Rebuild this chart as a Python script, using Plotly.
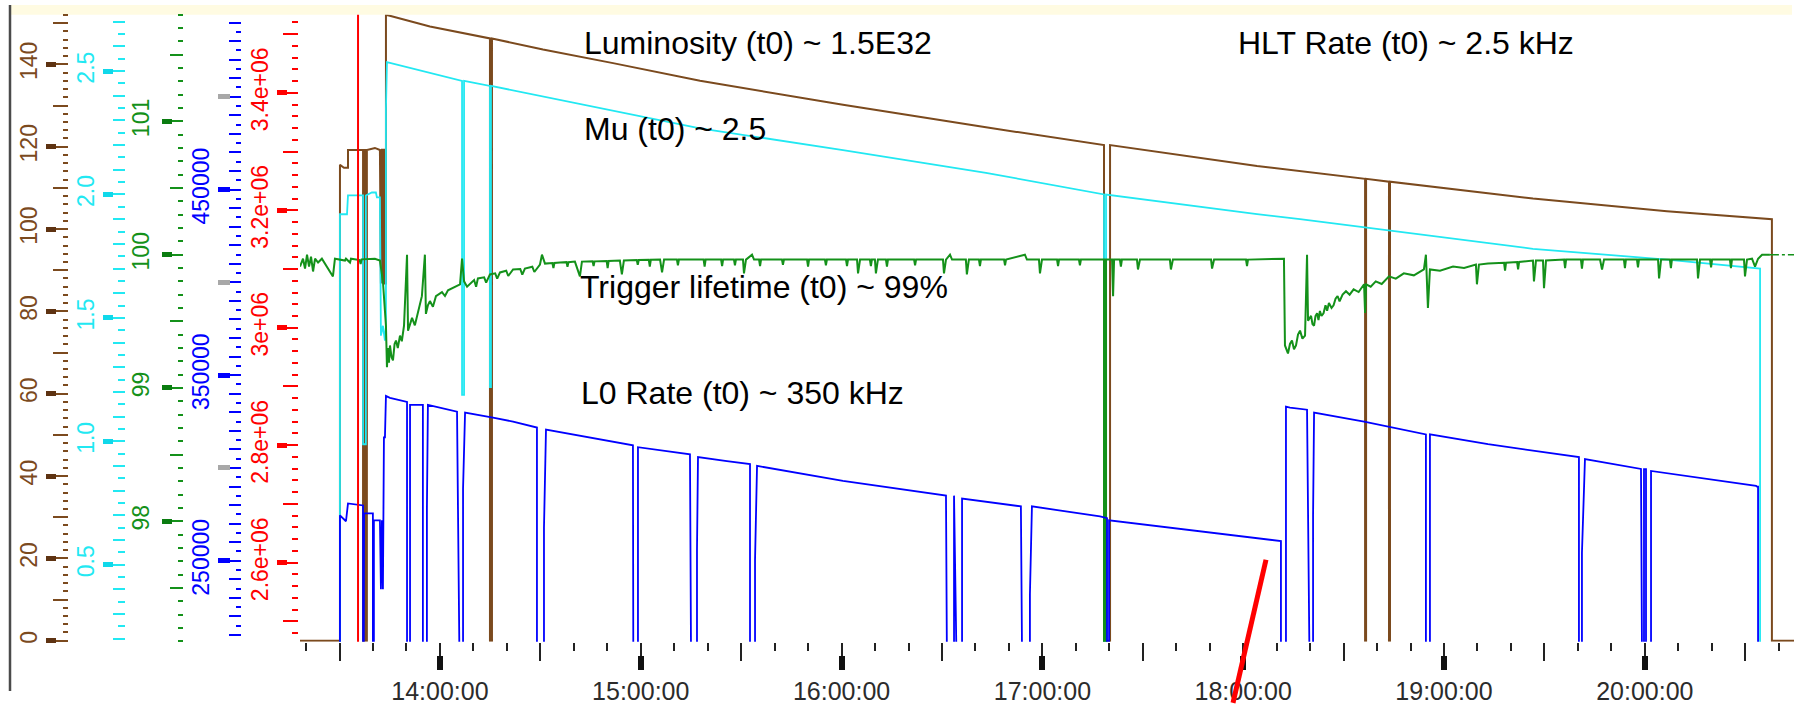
import plotly.graph_objects as go

W, H = 1796, 705

# ---------------- data (time = decimal hour of the day) ----------------
hour_ticks = [14, 15, 16, 17, 18, 19, 20]
hour_labels = ["14:00:00", "15:00:00", "16:00:00", "17:00:00",
               "18:00:00", "19:00:00", "20:00:00"]

# Luminosity (brown axis)
lumi = [(13.303, 0), (13.502, 0), (13.502, 115.6), (13.522, 114.9), (13.542, 114.9),
        (13.542, 119.2), (13.617, 119.2), (13.617, 0), (13.622, 0), (13.622, 119.2),
        (13.631, 119.2), (13.631, 0), (13.636, 0), (13.636, 119.2), (13.676, 119.7),
        (13.701, 119.2), (13.706, 86.8), (13.711, 119.5), (13.716, 86.8), (13.721, 119.5),
        (13.726, 86.8), (13.731, 86.8), (13.731, 152.0), (13.736, 152.0), (13.950, 149.2),
        (14.249, 146.3), (14.249, 0), (14.259, 0), (14.259, 146.3), (14.513, 143.6),
        (14.862, 140.3), (15.295, 136.0), (16.007, 130.2), (16.719, 124.7), (17.307, 120.4),
        (17.307, 0), (17.337, 0), (17.337, 120.4), (18.069, 115.3), (18.607, 112.2),
        (18.607, 0), (18.612, 0), (18.612, 112.2), (18.726, 111.5), (18.726, 0),
        (18.731, 0), (18.731, 111.5), (19.443, 107.4), (20.110, 104.3), (20.633, 102.4),
        (20.633, 0), (20.743, 0)]

# Mu (cyan axis)
mu = [(13.303, 0), (13.502, 0), (13.502, 1.92), (13.537, 1.92), (13.542, 1.996),
      (13.617, 1.996), (13.617, 0.988), (13.631, 0.988), (13.631, 1.996), (13.661, 2.008),
      (13.681, 2.008), (13.686, 1.988), (13.701, 1.988), (13.706, 1.428), (13.716, 1.468),
      (13.726, 1.408), (13.731, 1.468), (13.731, 2.348), (13.736, 2.536), (14.110, 2.46),
      (14.110, 1.188), (14.120, 1.188), (14.120, 2.46), (14.249, 2.44), (14.249, 1.22),
      (14.254, 1.22), (14.254, 2.44), (15.295, 2.268), (16.007, 2.18), (16.719, 2.088),
      (17.307, 2.0), (17.307, 0), (17.317, 0), (17.317, 2.0), (18.069, 1.92),
      (18.283, 1.90), (19.443, 1.78), (20.110, 1.736), (20.574, 1.70), (20.574, 0),
      (20.743, 0)]

# Trigger lifetime (green axis)
trig = [(13.303, 99.911), (13.318, 99.970), (13.328, 99.896), (13.338, 100.0), (13.348, 99.911),
        (13.358, 99.985), (13.368, 99.874), (13.378, 99.970), (13.393, 99.941), (13.412, 99.970),
        (13.467, 99.837), (13.477, 99.970), (13.527, 99.956), (13.532, 99.970), (13.552, 99.941),
        (13.557, 99.970), (13.600, 99.960), (13.605, 99.930), (13.610, 99.965), (13.676, 99.970),
        (13.701, 99.956), (13.716, 99.800), (13.731, 99.467), (13.736, 99.156), (13.741, 99.300),
        (13.746, 99.190), (13.751, 99.319), (13.759, 99.230), (13.766, 99.207), (13.774, 99.330),
        (13.781, 99.356), (13.790, 99.300), (13.801, 99.393), (13.810, 99.350), (13.821, 99.467),
        (13.836, 100.0), (13.841, 99.430), (13.851, 99.480), (13.861, 99.526), (13.875, 99.470),
        (13.890, 99.556), (13.910, 99.689), (13.925, 100.0), (13.930, 99.556), (13.940, 99.620),
        (13.950, 99.652), (13.965, 99.610), (13.980, 99.689), (14.010, 99.719), (14.025, 99.690),
        (14.040, 99.733), (14.075, 99.763), (14.100, 99.778), (14.110, 99.970), (14.120, 99.800),
        (14.135, 99.760), (14.149, 99.778), (14.170, 99.810), (14.180, 99.760), (14.189, 99.822),
        (14.220, 99.830), (14.230, 99.790), (14.249, 99.852), (14.275, 99.860), (14.285, 99.820),
        (14.299, 99.867), (14.330, 99.880), (14.340, 99.840), (14.364, 99.889), (14.400, 99.893),
        (14.410, 99.850), (14.423, 99.896), (14.460, 99.910), (14.470, 99.870), (14.498, 99.926),
        (14.508, 100.0), (14.523, 99.933), (14.560, 99.938), (14.565, 99.900), (14.570, 99.938),
        (14.598, 99.941), (14.630, 99.944), (14.635, 99.910), (14.640, 99.944), (14.672, 99.948),
        (14.697, 99.837), (14.707, 99.948), (14.760, 99.950), (14.765, 99.915), (14.770, 99.950),
        (14.830, 99.953), (14.835, 99.900), (14.840, 99.953), (14.896, 99.956), (14.906, 99.852),
        (14.916, 99.956), (14.980, 99.960), (14.985, 99.925), (14.990, 99.960), (15.040, 99.962),
        (15.045, 99.910), (15.050, 99.962), (15.096, 99.963), (15.106, 99.867), (15.116, 99.963),
        (15.180, 99.963), (15.185, 99.920), (15.190, 99.963), (15.313, 99.963), (15.318, 99.910),
        (15.323, 99.963), (15.400, 99.963), (15.405, 99.915), (15.410, 99.963), (15.464, 99.963),
        (15.469, 99.920), (15.474, 99.963), (15.509, 99.963), (15.514, 99.859), (15.524, 99.963),
        (15.554, 100.0), (15.564, 99.963), (15.589, 99.963), (15.594, 99.915), (15.599, 99.963),
        (15.703, 99.963), (15.708, 99.925), (15.713, 99.963), (15.828, 99.963), (15.833, 99.910),
        (15.838, 99.963), (15.917, 99.963), (15.922, 99.920), (15.927, 99.963), (16.022, 99.963),
        (16.027, 99.915), (16.032, 99.963), (16.077, 99.963), (16.082, 99.859), (16.092, 99.963),
        (16.141, 99.963), (16.146, 99.915), (16.151, 99.963), (16.166, 99.963), (16.171, 99.859),
        (16.181, 99.963), (16.221, 99.963), (16.226, 99.910), (16.231, 99.963), (16.361, 99.963),
        (16.366, 99.920), (16.371, 99.963), (16.505, 99.963), (16.510, 99.859), (16.520, 99.963),
        (16.540, 100.0), (16.550, 99.963), (16.619, 99.963), (16.624, 99.852), (16.634, 99.963),
        (16.684, 99.963), (16.689, 99.915), (16.694, 99.963), (16.809, 99.963), (16.814, 99.920),
        (16.819, 99.963), (16.913, 100.0), (16.923, 99.963), (16.983, 99.963), (16.988, 99.859),
        (16.998, 99.963), (17.073, 99.963), (17.078, 99.915), (17.083, 99.963), (17.182, 99.963),
        (17.187, 99.920), (17.192, 99.963), (17.307, 99.963), (17.307, 97.0), (17.317, 97.0),
        (17.317, 99.963), (17.347, 99.963), (17.352, 99.689), (17.357, 99.963), (17.386, 99.963),
        (17.391, 99.910), (17.396, 99.963), (17.471, 99.963), (17.476, 99.889), (17.486, 99.963),
        (17.635, 99.963), (17.640, 99.889), (17.650, 99.963), (17.840, 99.963), (17.845, 99.896),
        (17.855, 99.963), (18.014, 99.963), (18.019, 99.915), (18.024, 99.963), (18.203, 99.970),
        (18.208, 99.319), (18.223, 99.259), (18.233, 99.330), (18.243, 99.356), (18.253, 99.290),
        (18.263, 99.319), (18.273, 99.400), (18.283, 99.430), (18.295, 99.370), (18.308, 99.393),
        (18.318, 100.0), (18.323, 99.504), (18.338, 99.541), (18.345, 99.480), (18.353, 99.467),
        (18.360, 99.540), (18.368, 99.560), (18.375, 99.510), (18.382, 99.578), (18.390, 99.540),
        (18.400, 99.560), (18.410, 99.620), (18.418, 99.580), (18.427, 99.637), (18.440, 99.600),
        (18.450, 99.620), (18.460, 99.670), (18.470, 99.690), (18.480, 99.650), (18.495, 99.700),
        (18.512, 99.726), (18.530, 99.700), (18.550, 99.740), (18.575, 99.720), (18.602, 99.778),
        (18.607, 99.563), (18.612, 99.778), (18.635, 99.760), (18.660, 99.800), (18.690, 99.780),
        (18.726, 99.837), (18.760, 99.820), (18.800, 99.860), (18.850, 99.845), (18.900, 99.889),
        (18.910, 100.0), (18.920, 99.600), (18.930, 99.889), (18.980, 99.880), (19.045, 99.911),
        (19.100, 99.900), (19.159, 99.926), (19.164, 99.778), (19.174, 99.926), (19.219, 99.933),
        (19.299, 99.940), (19.304, 99.880), (19.309, 99.940), (19.364, 99.945), (19.369, 99.890),
        (19.374, 99.945), (19.443, 99.956), (19.448, 99.800), (19.458, 99.956), (19.493, 99.956),
        (19.498, 99.748), (19.508, 99.956), (19.573, 99.963), (19.598, 99.963), (19.603, 99.900),
        (19.608, 99.963), (19.682, 99.963), (19.687, 99.895), (19.692, 99.963), (19.777, 99.963),
        (19.787, 99.889), (19.797, 99.963), (19.896, 99.963), (19.901, 99.900), (19.906, 99.963),
        (19.961, 99.963), (19.966, 99.905), (19.971, 99.963), (20.066, 99.963), (20.071, 99.822),
        (20.081, 99.963), (20.125, 99.963), (20.130, 99.900), (20.135, 99.963), (20.260, 99.963),
        (20.265, 99.822), (20.275, 99.963), (20.325, 99.963), (20.330, 99.905), (20.335, 99.963),
        (20.424, 99.963), (20.429, 99.900), (20.434, 99.963), (20.494, 99.963), (20.499, 99.837),
        (20.509, 99.963), (20.534, 99.970), (20.549, 99.911), (20.564, 99.970), (20.584, 100.0),
        (20.623, 100.0)]
trig_tail = [(20.623, 100.0), (20.753, 100.0)]

# L0 rate (blue axis)
l0 = [(13.303, 0), (13.502, 0), (13.502, 274500), (13.532, 271300), (13.542, 280900),
      (13.611, 279800), (13.617, 279800), (13.617, 0), (13.622, 0), (13.622, 275500),
      (13.666, 275500), (13.666, 0), (13.671, 0), (13.671, 271800), (13.701, 271800),
      (13.706, 234600), (13.711, 271800), (13.716, 234600), (13.721, 316500), (13.726, 316500),
      (13.731, 338800), (13.751, 337800), (13.836, 335600), (13.836, 0), (13.851, 0),
      (13.851, 334000), (13.915, 334000), (13.915, 0), (13.935, 0), (13.935, 278200),
      (13.940, 334000), (14.085, 330300), (14.090, 0), (14.115, 0), (14.115, 288800),
      (14.125, 329800), (14.264, 327100), (14.364, 325000), (14.483, 321800), (14.483, 0),
      (14.518, 0), (14.518, 267600), (14.528, 320700), (14.961, 312200), (14.966, 0),
      (14.986, 0), (14.986, 311200), (15.245, 307400), (15.260, 0), (15.280, 0),
      (15.280, 255900), (15.285, 305900), (15.429, 303700), (15.544, 302100), (15.544, 0),
      (15.569, 0), (15.569, 250500), (15.579, 301100), (16.007, 293100), (16.520, 285100),
      (16.535, 0), (16.560, 0), (16.560, 285100), (16.575, 0), (16.600, 0),
      (16.600, 283500), (16.893, 279300), (16.913, 0), (16.938, 0), (16.938, 231900),
      (16.948, 279300), (17.287, 273900), (17.322, 273000), (17.322, 0), (17.332, 0),
      (17.332, 271800), (18.069, 262200), (18.168, 260600), (18.188, 260600), (18.188, 0),
      (18.213, 0), (18.213, 333000), (18.233, 332500), (18.318, 331400), (18.323, 0),
      (18.348, 0), (18.348, 274500), (18.353, 329800), (18.602, 325000), (18.726, 322300),
      (18.910, 318100), (18.910, 0), (18.930, 0), (18.930, 318100), (19.219, 312800),
      (19.672, 305900), (19.672, 0), (19.687, 0), (19.687, 254300), (19.702, 304800),
      (19.981, 299500), (19.986, 0), (19.996, 0), (19.996, 299400), (20.006, 299400),
      (20.006, 0), (20.031, 0), (20.031, 298400), (20.554, 290400), (20.559, 289900),
      (20.564, 289900), (20.564, 0), (20.743, 0)]

# HLT rate (red axis): only a single spike is visible
hlt = [(13.592, 2.0e6), (13.592, 4.0e6)]

lumi_ticks = [0, 20, 40, 60, 80, 100, 120, 140]
mu_ticks = [0.5, 1.0, 1.5, 2.0, 2.5]
mu_labels = ["0.5", "1.0", "1.5", "2.0", "2.5"]
trig_ticks = [98, 99, 100, 101]
l0_ticks = [250000, 350000, 450000]
l0_grey_ticks = [300000, 400000, 500000]
hlt_ticks = [2.6e6, 2.8e6, 3.0e6, 3.2e6, 3.4e6]
hlt_labels = ["2.6e+06", "2.8e+06", "3e+06", "3.2e+06", "3.4e+06"]

titles = ["Luminosity (t0) ~ 1.5E32", "HLT Rate (t0) ~ 2.5 kHz", "Mu (t0) ~ 2.5",
          "Trigger lifetime (t0) ~ 99%", "L0 Rate (t0) ~ 350 kHz"]

# ---------------- styling / layout ----------------
BROWN, BROWN_D = "#7b4a1e", "#5e3312"
CYAN, CYAN_D = "#22e8f2", "#10d8ea"
GREEN, GREEN_D = "#14911a", "#0a7c10"
BLUE = "#0000ff"
RED = "#ff0000"
GREY = "#a8a8a8"
FONT = "Liberation Sans, Arial, sans-serif"

X_RANGE = [13.303, 20.743]
LUMI_RANGE = [-0.24, 152.04]
MU_RANGE = [0.188, 2.728]
TRIG_RANGE = [97.096, 101.8]
L0_RANGE = [206400, 544150]
HLT_RANGE = [2465500, 3532800]


def px(xp):
    return xp / W


def py(yp):
    return (H - yp) / H


YDOM = [py(650), py(15)]
XDOM = [px(300), px(1794)]


def unzip(pairs):
    return [p[0] for p in pairs], [p[1] for p in pairs]


fig = go.Figure()


def line_trace(pairs, color, yaxis, width=1.5, dash="solid"):
    xs, ys = unzip(pairs)
    fig.add_trace(go.Scatter(x=xs, y=ys, mode="lines", xaxis="x", yaxis=yaxis,
                             line=dict(color=color, width=width, dash=dash),
                             showlegend=False, hoverinfo="skip"))


line_trace(lumi, BROWN, "y", 2)
line_trace(mu, CYAN, "y3", 1.8)
line_trace(trig, GREEN, "y5", 2)
line_trace(trig_tail, GREEN, "y5", 1.6, "dashdot")
line_trace(l0, BLUE, "y7", 1.8)
line_trace(hlt, RED, "y10", 2)

# empty traces so that every decorative axis is instantiated
for ya in ["y2", "y4", "y6", "y8", "y9", "y11"]:
    fig.add_trace(go.Scatter(x=[], y=[], xaxis="x", yaxis=ya, showlegend=False))
fig.add_trace(go.Scatter(x=[], y=[], xaxis="x2", yaxis="y", showlegend=False))


def main_axis(rng, pos, color, dtick, tick0, ticklen, mdtick, mticklen, overlay=True):
    d = dict(range=rng, domain=YDOM, anchor="free", position=pos, side="left",
             showgrid=False, zeroline=False, showline=False, ticks="outside",
             tickmode="linear", tick0=tick0, dtick=dtick, ticklen=ticklen, tickwidth=1.5,
             tickcolor=color, showticklabels=False,
             minor=dict(ticks="outside", dtick=mdtick, tick0=tick0, ticklen=mticklen,
                        tickwidth=1.5, tickcolor=color, showgrid=False))
    if overlay:
        d["overlaying"] = "y"
    return d


def thick_axis(rng, pos, color, tickvals, ticktext, labelcolor, ticklen=10, labels=True,
               standoff=0):
    return dict(range=rng, domain=YDOM, anchor="free", position=pos, side="left",
                overlaying="y", showgrid=False, zeroline=False, showline=False,
                ticks="outside", tickmode="array", tickvals=tickvals, ticktext=ticktext,
                ticklen=ticklen, tickwidth=5, tickcolor=color, showticklabels=labels,
                tickangle=-90, ticklabelstandoff=standoff,
                tickfont=dict(family=FONT, size=23, color=labelcolor))


layout_axes = dict(
    yaxis=main_axis(LUMI_RANGE, px(68), BROWN, 10, 0, 15, 2, 5, overlay=False),
    yaxis2=thick_axis(LUMI_RANGE, px(56), BROWN_D, lumi_ticks,
                      [str(v) for v in lumi_ticks], BROWN, standoff=0),
    yaxis3=main_axis(MU_RANGE, px(125), CYAN, 0.1, 0, 12, 0.05, 7),
    yaxis4=thick_axis(MU_RANGE, px(113), CYAN_D, mu_ticks, mu_labels, CYAN, standoff=0),
    yaxis5=main_axis(TRIG_RANGE, px(183), GREEN, 0.5, 0, 13, 0.1, 5),
    yaxis6=thick_axis(TRIG_RANGE, px(172), GREEN_D, trig_ticks,
                      [str(v) for v in trig_ticks], GREEN, standoff=4),
    yaxis7=main_axis(L0_RANGE, px(241), BLUE, 10000, 0, 12, 5000, 5),
    yaxis8=thick_axis(L0_RANGE, px(230), BLUE, l0_ticks, [str(v) for v in l0_ticks], BLUE, 12,
                      standoff=0),
    yaxis9=thick_axis(L0_RANGE, px(230), GREY, l0_grey_ticks, ["", "", ""], GREY, 12,
                      labels=False),
    yaxis10=main_axis(HLT_RANGE, px(298), RED, 100000, 0, 15, 20000, 6),
    yaxis11=thick_axis(HLT_RANGE, px(287), RED, hlt_ticks, hlt_labels, RED, standoff=0),
    xaxis=dict(range=X_RANGE, domain=XDOM, anchor="y", showgrid=False, zeroline=False,
               showline=False, ticks="outside", tickmode="linear", tick0=13.5, dtick=0.5,
               ticklen=18, tickwidth=1.5, tickcolor="#222222", showticklabels=False,
               minor=dict(ticks="outside", dtick=1 / 6, tick0=13.5, ticklen=8, tickwidth=1.5,
                          tickcolor="#222222", showgrid=False)),
    xaxis2=dict(range=X_RANGE, domain=XDOM, anchor="free", position=py(663), overlaying="x",
                showgrid=False, zeroline=False, showline=False, ticks="outside",
                tickmode="array", tickvals=hour_ticks, ticktext=hour_labels, ticklen=14,
                tickwidth=6, tickcolor="#111111",
                tickfont=dict(family=FONT, size=25, color="#2b2b2b")),
)

title_pos = [(582, 44), (1236, 44), (582, 131), (578, 291), (579, 398)]
annotations = [dict(text=t, x=px(xp), y=py(yp), xref="paper", yref="paper",
                    xanchor="left", yanchor="middle", showarrow=False,
                    font=dict(family=FONT, size=32, color="#000000"))
               for t, (xp, yp) in zip(titles, title_pos)]

shapes = [
    dict(type="rect", xref="paper", yref="paper", x0=px(10), x1=px(1792), y0=py(15), y1=py(5),
         fillcolor="#fffbe2", line=dict(width=0), layer="below"),
    dict(type="line", xref="paper", yref="paper", x0=px(10), x1=px(10), y0=py(5), y1=py(700),
         line=dict(color="#4a4a4a", width=2.5)),
    dict(type="line", xref="paper", yref="paper", x0=px(1266), y0=py(567), x1=px(1233),
         y1=py(712), line=dict(color=RED, width=5)),
]

fig.update_layout(width=W, height=H, margin=dict(l=0, r=0, t=0, b=0),
                  paper_bgcolor="white", plot_bgcolor="rgba(0,0,0,0)", showlegend=False,
                  annotations=annotations, shapes=shapes, **layout_axes)

fig.write_html("out.html")
